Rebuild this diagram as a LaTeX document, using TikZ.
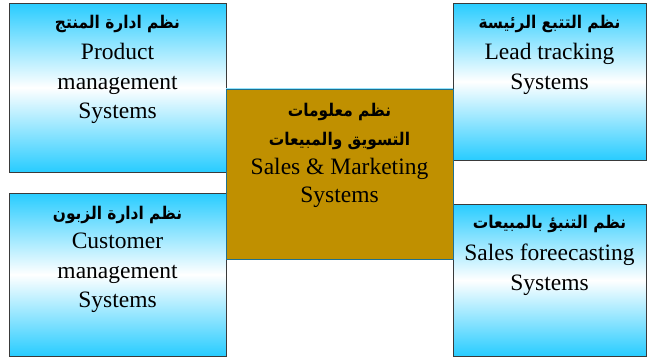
\documentclass[tikz,border=0pt]{standalone}
\usepackage{fontspec}
\setmainfont{Liberation Serif}
\newfontfamily\arabicfont[Script=Arabic,FakeStretch=0.88]{DejaVu Sans}
\TeXXeTstate=1
\definecolor{skyc}{HTML}{28CCFF}
\definecolor{goldc}{HTML}{C09000}
\definecolor{edgec}{HTML}{3A3A3A}
\definecolor{tealc}{HTML}{1F7090}
\newcommand{\ar}[1]{{\arabicfont\bfseries\fontsize{17.5}{30}\selectfont\beginR #1\endR}}
\begin{document}
\begin{tikzpicture}[x=1pt,y=-1pt,
  sysbox/.style={draw=edgec,line width=0.8pt,top color=skyc,bottom color=skyc,middle color=white},
  centbox/.style={draw=tealc,line width=0.8pt,fill=goldc},
  boxtext/.style={anchor=north,align=center,inner sep=0pt,font=\fontsize{23.5}{29.5}\selectfont}]
\useasboundingbox (0,0) rectangle (647,357);
\node[sysbox,minimum width=217pt,minimum height=169pt,inner sep=0pt] (prod) at (117.5,87.5) {};
\node[sysbox,minimum width=217pt,minimum height=163pt,inner sep=0pt] (cust) at (117.5,274.5) {};
\node[sysbox,minimum width=193pt,minimum height=157pt,inner sep=0pt] (lead) at (549.5,81.5) {};
\node[sysbox,minimum width=193pt,minimum height=152pt,inner sep=0pt] (fore) at (549.5,280) {};
\node[centbox,minimum width=227pt,minimum height=170pt,inner sep=0pt] (sales) at (339.5,174) {};
\draw[skyc!50,line width=1.2pt] (sales.north west) -- (sales.north east);
\node[boxtext] (prodt) at ([yshift=-12pt]prod.north) {\ar{نظم ادارة المنتج}\\[2pt]Product\\management\\Systems};
\node[boxtext] (custt) at ([yshift=-13pt]cust.north) {\ar{نظم ادارة الزبون}\\[0pt]Customer\\management\\Systems};
\node[boxtext] (leadt) at ([yshift=-12pt]lead.north) {\ar{نظم التتبع الرئيسة}\\[2pt]Lead tracking\\Systems};
\node[boxtext] (foret) at ([yshift=-11pt]fore.north) {\ar{نظم التنبؤ بالمبيعات}\\[3pt]Sales foreecasting\\Systems};
\node[boxtext] (salest) at ([yshift=-14pt]sales.north) {\ar{نظم معلومات}\\\ar{التسويق والمبيعات}\\[-1pt]Sales \& Marketing\\[-1pt]Systems};
\end{tikzpicture}
\end{document}
